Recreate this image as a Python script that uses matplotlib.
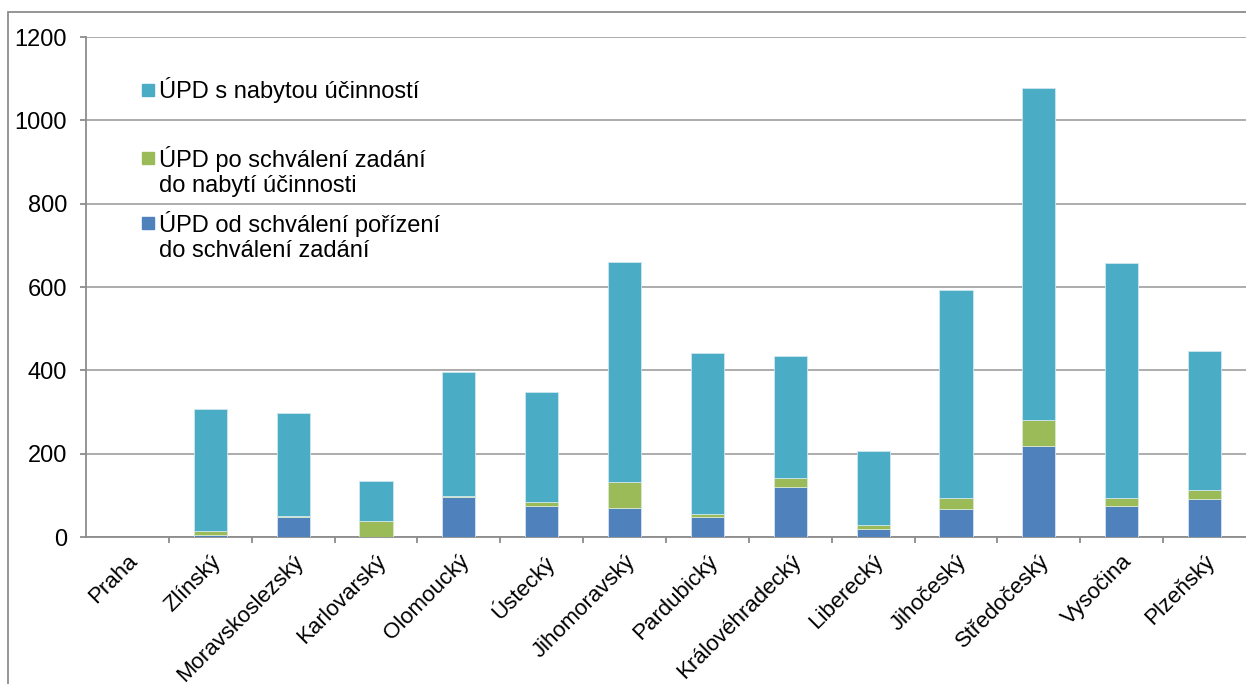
import matplotlib.pyplot as plt
import numpy as np
from matplotlib.patches import Rectangle

regions = ["Praha", "Zlínský", "Moravskoslezský", "Karlovarský", "Olomoucký", "Ústecký",
           "Jihomoravský", "Pardubický", "Královéhradecký", "Liberecký", "Jihočeský",
           "Středočeský", "Vysočina", "Plzeňský"]
# ÚPD od schválení pořízení do schválení zadání
porizeni = [0, 4, 47, 0, 96, 74, 70, 49, 120, 20, 67, 219, 75, 91]
# ÚPD po schválení zadání do nabytí účinnosti
zadani = [0, 11, 4, 38, 2, 11, 61, 6, 22, 8, 26, 62, 19, 21]
# ÚPD s nabytou účinností
ucinnost = [0, 292, 247, 96, 298, 263, 529, 387, 292, 178, 500, 797, 564, 334]

labels = ['ÚPD s nabytou účinností',
          'ÚPD po schválení zadání\ndo nabytí účinnosti',
          'ÚPD od schválení pořízení\ndo schválení zadání']

plt.rcParams['font.family'] = ['Liberation Sans', 'DejaVu Sans']

W, H = 1246, 684
fig = plt.figure(figsize=(W / 100, H / 100), dpi=100)
ax = fig.add_axes([86 / W, 1 - 537 / H, 1160 / W, 500 / H])

x = np.arange(len(regions))
w = 0.4
c_blue, c_green, c_cyan = '#4F81BD', '#9BBB59', '#4BACC6'
ax.bar(x, porizeni, w, color=c_blue, edgecolor='#d8e4ef', linewidth=0.6, zorder=3)
bottom2 = np.array(porizeni)
ax.bar(x, zadani, w, bottom=bottom2, color=c_green, edgecolor='#d8e8d0', linewidth=0.6, zorder=3)
bottom3 = bottom2 + np.array(zadani)
ax.bar(x, ucinnost, w, bottom=bottom3, color=c_cyan, edgecolor='#cfe6ee', linewidth=0.6, zorder=3)

ax.set_xlim(-0.5, len(regions) - 0.5)
ax.set_ylim(0, 1200)
ax.set_yticks(range(0, 1201, 200))
ax.yaxis.grid(True, color='#a6a6a6', linewidth=1.3, zorder=0)
ax.set_axisbelow(True)
for s in ['top', 'right']:
    ax.spines[s].set_visible(False)
for s in ['left', 'bottom']:
    ax.spines[s].set_color('#8c8c8c')
    ax.spines[s].set_linewidth(1.3)
ax.tick_params(axis='y', length=4.5, width=1.3, color='#8c8c8c', labelsize=17, pad=9)
ax.set_xticks(x)
ax.set_xticklabels(regions, rotation=45, ha='right', rotation_mode='anchor', fontsize=16)
ax.tick_params(axis='x', length=0, pad=10)
ax.set_xticks(x[:-1] + 0.5, minor=True)
ax.tick_params(axis='x', which='minor', length=4.5, width=1.3, color='#8c8c8c')

# legend drawn by hand, Excel-like placement
colors = [c_cyan, c_green, c_blue]
sq_y = [90, 158, 223]       # pixel row of the square (first text line)
txt_y = [90, 171.5, 236.5]  # pixel row of the text block centre
for col, lab, sy, ty in zip(colors, labels, sq_y, txt_y):
    ax.add_patch(Rectangle(((142 - 86) / 1160, (537 - sy - 6) / 500), 12 / 1160, 12 / 500,
                           transform=ax.transAxes, color=col, clip_on=False, zorder=5))
    ax.text((159 - 86) / 1160, (537 - ty) / 500, lab, transform=ax.transAxes,
            fontsize=17, va='center', ha='left', linespacing=1.15, zorder=5)

fig.patches.append(Rectangle((8 / W, -0.1), 1.2, (H - 12) / H + 0.1,
                             transform=fig.transFigure, fill=False, edgecolor='#8c8c8c',
                             linewidth=1.3, zorder=0))

fig.savefig('out.png', dpi=100)
